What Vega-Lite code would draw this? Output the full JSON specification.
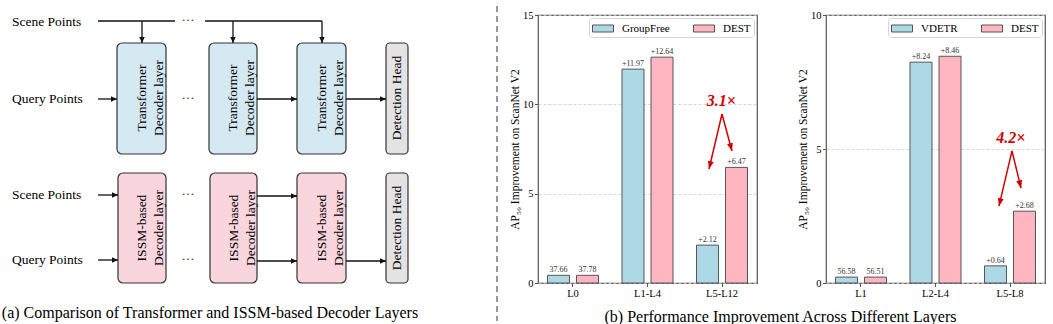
{
  "$schema": "https://vega.github.io/schema/vega-lite/v6.json",
  "padding": {"left": 0, "top": 5, "right": 0, "bottom": 0},
  "background": "white",
  "bounds": "flush",
  "spacing": 69,
  "config": {
    "font": "Liberation Serif",
    "view": {"stroke": "#555555", "strokeWidth": 1.2},
    "axis": {"labelColor": "#000000", "titleColor": "#000000", "tickColor": "#555555", "domain": false, "labelFont": "Liberation Serif", "titleFont": "Liberation Serif"},
    "legend": {
      "orient": "top-right", "direction": "horizontal",
      "symbolType": "M-1,-0.5H2V0.5H-1Z", "symbolSize": 196,
      "symbolStrokeColor": "#555555", "symbolStrokeWidth": 1, "symbolOpacity": 1,
      "labelFontSize": 11, "labelColor": "#000000", "labelFont": "Liberation Serif",
      "strokeColor": "#d5d5d5", "fillColor": "#ffffff", "padding": 3, "cornerRadius": 3,
      "offset": 3, "columnPadding": 21, "labelOffset": 15
    }
  },
  "resolve": {"scale": {"color": "independent"}, "legend": {"color": "independent"}},
  "datasets": {
    "diagSep": [{"x": 497, "y": 5, "x2": 497, "y2": 320}],
    "diagBoxes": [
      {"kind": "blue", "x": 117, "x2": 166, "y": 42, "y2": 153},
      {"kind": "blue", "x": 209, "x2": 257, "y": 42, "y2": 153},
      {"kind": "blue", "x": 297, "x2": 346, "y": 42, "y2": 153},
      {"kind": "grey", "x": 386, "x2": 408, "y": 42, "y2": 153},
      {"kind": "pink", "x": 118, "x2": 166, "y": 172, "y2": 282},
      {"kind": "pink", "x": 210, "x2": 257, "y": 172, "y2": 282},
      {"kind": "pink", "x": 297, "x2": 346, "y": 172, "y2": 282},
      {"kind": "grey", "x": 386, "x2": 408, "y": 172, "y2": 282}
    ],
    "diagBoxText": [
      {"x": 141.5, "y": 97, "label": "Transformer\nDecoder layer"},
      {"x": 233, "y": 97, "label": "Transformer\nDecoder layer"},
      {"x": 321.5, "y": 97, "label": "Transformer\nDecoder layer"},
      {"x": 397, "y": 97, "label": "Detection Head"},
      {"x": 142, "y": 227, "label": "ISSM-based\nDecoder layer"},
      {"x": 233.5, "y": 227, "label": "ISSM-based\nDecoder layer"},
      {"x": 321.5, "y": 227, "label": "ISSM-based\nDecoder layer"},
      {"x": 397, "y": 227, "label": "Detection Head"}
    ],
    "diagLines": [
      {"x": 98, "y": 20, "x2": 175, "y2": 20, "head": "none"},
      {"x": 205, "y": 20, "x2": 322, "y2": 20, "head": "none"},
      {"x": 142, "y": 20, "x2": 142, "y2": 42, "head": "down"},
      {"x": 233, "y": 20, "x2": 233, "y2": 42, "head": "down"},
      {"x": 322, "y": 20, "x2": 322, "y2": 42, "head": "down"},
      {"x": 98, "y": 98, "x2": 117, "y2": 98, "head": "right"},
      {"x": 257, "y": 98, "x2": 297, "y2": 98, "head": "right"},
      {"x": 346, "y": 98, "x2": 386, "y2": 98, "head": "right"},
      {"x": 98, "y": 194, "x2": 118, "y2": 194, "head": "right"},
      {"x": 98, "y": 259, "x2": 118, "y2": 259, "head": "right"},
      {"x": 257, "y": 195, "x2": 297, "y2": 195, "head": "right"},
      {"x": 257, "y": 260, "x2": 297, "y2": 260, "head": "right"},
      {"x": 346, "y": 260, "x2": 386, "y2": 260, "head": "right"}
    ],
    "diagLabels": [
      {"x": 12, "y": 21, "label": "Scene Points"},
      {"x": 12, "y": 98, "label": "Query Points"},
      {"x": 12, "y": 194, "label": "Scene Points"},
      {"x": 12, "y": 259, "label": "Query Points"}
    ],
    "diagDots": [
      {"x": 188, "y": 19}, {"x": 188, "y": 97}, {"x": 188, "y": 193}, {"x": 188, "y": 258}
    ],
    "diagCaption": [{"x": 210, "y": 317, "label": "(a) Comparison of Transformer and ISSM-based Decoder Layers"}],
    "bars1": [
      {"layer": "L0", "model": "GroupFree", "value": 0.43, "label": "37.66"},
      {"layer": "L0", "model": "DEST", "value": 0.43, "label": "37.78"},
      {"layer": "L1-L4", "model": "GroupFree", "value": 11.97, "label": "+11.97"},
      {"layer": "L1-L4", "model": "DEST", "value": 12.64, "label": "+12.64"},
      {"layer": "L5-L12", "model": "GroupFree", "value": 2.12, "label": "+2.12"},
      {"layer": "L5-L12", "model": "DEST", "value": 6.47, "label": "+6.47"}
    ],
    "bars2": [
      {"layer": "L1", "model": "VDETR", "value": 0.22, "label": "56.58"},
      {"layer": "L1", "model": "DEST", "value": 0.22, "label": "56.51"},
      {"layer": "L2-L4", "model": "VDETR", "value": 8.24, "label": "+8.24"},
      {"layer": "L2-L4", "model": "DEST", "value": 8.46, "label": "+8.46"},
      {"layer": "L5-L8", "model": "VDETR", "value": 0.64, "label": "+0.64"},
      {"layer": "L5-L8", "model": "DEST", "value": 2.68, "label": "+2.68"}
    ],
    "ann1": [{"u": 1.99, "v": 10.18, "label": "3.1×"}],
    "arr1": [
      {"side": "left", "u1": 2.0, "v1": 9.46, "u2": 1.826, "v2": 6.38},
      {"side": "right", "u1": 2.0, "v1": 9.46, "u2": 2.134, "v2": 7.39}
    ],
    "ann2": [{"u": 2.01, "v": 5.41, "label": "4.2×"}],
    "arr2": [
      {"side": "left", "u1": 2.027, "v1": 4.93, "u2": 1.852, "v2": 2.87},
      {"side": "right", "u1": 2.027, "v1": 4.93, "u2": 2.148, "v2": 3.54}
    ]
  },
  "hconcat": [
    {
      "width": 469,
      "height": 310,
      "view": {"stroke": null},
      "encoding": {
        "x": {"field": "x", "type": "quantitative", "scale": {"domain": [0, 469], "nice": false, "zero": false}, "axis": null},
        "y": {"field": "y", "type": "quantitative", "scale": {"domain": [14, 324], "nice": false, "zero": false, "reverse": true}, "axis": null}
      },
      "layer": [
        {"data": {"name": "diagSep"}, "mark": {"type": "rule", "stroke": "#555555", "strokeWidth": 1.2, "strokeDash": [6, 4]}, "encoding": {"x2": {"field": "x2"}, "y2": {"field": "y2"}}},
        {"data": {"name": "diagBoxes"}, "transform": [{"filter": "datum.kind === 'blue'"}], "mark": {"type": "rect", "fill": "#d5e9f2", "stroke": "#333333", "strokeWidth": 1.2, "cornerRadius": 5}, "encoding": {"x2": {"field": "x2"}, "y2": {"field": "y2"}}},
        {"data": {"name": "diagBoxes"}, "transform": [{"filter": "datum.kind === 'pink'"}], "mark": {"type": "rect", "fill": "#f9d5dd", "stroke": "#333333", "strokeWidth": 1.2, "cornerRadius": 5}, "encoding": {"x2": {"field": "x2"}, "y2": {"field": "y2"}}},
        {"data": {"name": "diagBoxes"}, "transform": [{"filter": "datum.kind === 'grey'"}], "mark": {"type": "rect", "fill": "#e3e3e3", "stroke": "#333333", "strokeWidth": 1.2, "cornerRadius": 4}, "encoding": {"x2": {"field": "x2"}, "y2": {"field": "y2"}}},
        {"data": {"name": "diagLines"}, "mark": {"type": "rule", "stroke": "#111111", "strokeWidth": 1.3}, "encoding": {"x2": {"field": "x2"}, "y2": {"field": "y2"}}},
        {"data": {"name": "diagLines"}, "transform": [{"filter": "datum.head === 'right'"}], "mark": {"type": "point", "shape": "M0,0L-2.2,-1L-2.2,1Z", "filled": true, "color": "#111111", "opacity": 1, "size": 30},
          "encoding": {
            "x": {"field": "x2", "type": "quantitative", "scale": {"domain": [0, 469], "nice": false, "zero": false}, "axis": null},
            "y": {"field": "y2", "type": "quantitative", "scale": {"domain": [14, 324], "nice": false, "zero": false, "reverse": true}, "axis": null}
          }},
        {"data": {"name": "diagLines"}, "transform": [{"filter": "datum.head === 'down'"}], "mark": {"type": "point", "shape": "M0,0L-1,-2.2L1,-2.2Z", "filled": true, "color": "#111111", "opacity": 1, "size": 30},
          "encoding": {
            "x": {"field": "x2", "type": "quantitative", "scale": {"domain": [0, 469], "nice": false, "zero": false}, "axis": null},
            "y": {"field": "y2", "type": "quantitative", "scale": {"domain": [14, 324], "nice": false, "zero": false, "reverse": true}, "axis": null}
          }},
        {"data": {"name": "diagLabels"}, "mark": {"type": "text", "align": "left", "baseline": "middle", "fontSize": 13.5, "color": "#000000"}, "encoding": {"text": {"field": "label"}}},
        {"data": {"name": "diagDots"}, "mark": {"type": "text", "align": "center", "baseline": "middle", "fontSize": 13, "color": "#333333", "text": "···"}},
        {"data": {"name": "diagBoxText"}, "mark": {"type": "text", "align": "center", "baseline": "middle", "angle": 270, "fontSize": 13.5, "lineBreak": "\n", "lineHeight": 17, "color": "#000000"}, "encoding": {"text": {"field": "label"}}},
        {"data": {"name": "diagCaption"}, "mark": {"type": "text", "align": "center", "baseline": "alphabetic", "fontSize": 16, "color": "#000000"}, "encoding": {"text": {"field": "label"}}}
      ]
    },
    {
      "width": 219,
      "height": 268,
      "resolve": {"scale": {"x": "independent"}, "axis": {"x": "independent"}},
      "layer": [
        {
          "data": {"name": "bars1"},
          "encoding": {
            "x": {"field": "layer", "type": "nominal", "sort": ["L0", "L1-L4", "L5-L12"], "scale": {"paddingInner": 0.315, "paddingOuter": 0.127},
              "axis": {"title": "(b) Performance Improvement Across Different Layers", "titleFontSize": 16, "titleFontWeight": "normal", "titleX": 242, "titleY": 38, "titleAlign": "center", "titleBaseline": "alphabetic", "labelAngle": 0, "labelFontSize": 10.5, "labelFont": "Liberation Serif", "tickSize": 3.5, "labelPadding": 2}},
            "y": {"field": "value", "type": "quantitative", "scale": {"domain": [0, 15], "nice": false},
              "axis": {"values": [0, 5, 10, 15], "title": "AP₅₀ Improvement on ScanNet V2", "titleFontSize": 11.5, "titleFontWeight": "normal", "titlePadding": 2, "grid": true, "gridDash": [3, 2], "gridColor": "#cccccc", "gridWidth": 0.8, "tickSize": 3.5, "labelFontSize": 10.5, "labelFont": "Liberation Serif", "labelPadding": 1.5}}
          },
          "layer": [
            {"transform": [{"filter": "datum.model === 'GroupFree'"}], "mark": {"type": "bar", "stroke": "#555555", "strokeWidth": 1, "width": 22, "xOffset": -14.5},
              "encoding": {"color": {"field": "model", "type": "nominal", "scale": {"domain": ["GroupFree", "DEST"], "range": ["#add8e6", "#ffb6c1"]}, "legend": {"title": null, "labelFont": "Liberation Serif"}}}},
            {"transform": [{"filter": "datum.model === 'DEST'"}], "mark": {"type": "bar", "stroke": "#555555", "strokeWidth": 1, "width": 22, "xOffset": 14.5},
              "encoding": {"color": {"field": "model", "type": "nominal", "scale": {"domain": ["GroupFree", "DEST"], "range": ["#add8e6", "#ffb6c1"]}, "legend": {"title": null, "labelFont": "Liberation Serif"}}}},
            {"transform": [{"filter": "datum.model === 'GroupFree'"}], "mark": {"type": "text", "baseline": "bottom", "dy": -1, "xOffset": -14.5, "fontSize": 8, "color": "#333333"}, "encoding": {"text": {"field": "label"}}},
            {"transform": [{"filter": "datum.model === 'DEST'"}], "mark": {"type": "text", "baseline": "bottom", "dy": -1, "xOffset": 14.5, "fontSize": 8, "color": "#333333"}, "encoding": {"text": {"field": "label"}}}
          ]
        },
        {
          "data": {"name": "ann1"},
          "mark": {"type": "text", "align": "center", "baseline": "middle", "fontSize": 16, "fontWeight": "bold", "fontStyle": "italic", "color": "#d00000"},
          "encoding": {
            "x": {"field": "u", "type": "quantitative", "scale": {"domain": [-0.47, 2.47], "nice": false, "zero": false}, "axis": null},
            "y": {"field": "v", "type": "quantitative", "scale": {"domain": [0, 15], "nice": false}},
            "text": {"field": "label"}
          }
        },
        {
          "data": {"name": "arr1"},
          "encoding": {
            "x": {"field": "u2", "type": "quantitative", "scale": {"domain": [-0.47, 2.47], "nice": false, "zero": false}, "axis": null},
            "y": {"field": "v2", "type": "quantitative", "scale": {"domain": [0, 15], "nice": false}}
          },
          "layer": [
            {"mark": {"type": "rule", "stroke": "#d00000", "strokeWidth": 1.5}, "encoding": {"x2": {"field": "u1"}, "y2": {"field": "v1"}}},
            {"transform": [{"filter": "datum.side === 'left'"}], "mark": {"type": "point", "shape": "M0,0L-1,-2.6L1,-2.6Z", "filled": true, "color": "#d00000", "opacity": 1, "size": 36, "angle": 13.3}},
            {"transform": [{"filter": "datum.side === 'right'"}], "mark": {"type": "point", "shape": "M0,0L-1,-2.6L1,-2.6Z", "filled": true, "color": "#d00000", "opacity": 1, "size": 36, "angle": -15}}
          ]
        }
      ]
    },
    {
      "width": 219,
      "height": 268,
      "resolve": {"scale": {"x": "independent"}, "axis": {"x": "independent"}},
      "layer": [
        {
          "data": {"name": "bars2"},
          "encoding": {
            "x": {"field": "layer", "type": "nominal", "sort": ["L1", "L2-L4", "L5-L8"], "scale": {"paddingInner": 0.315, "paddingOuter": 0.127},
              "axis": {"title": null, "labelAngle": 0, "labelFontSize": 10.5, "labelFont": "Liberation Serif", "tickSize": 3.5, "labelPadding": 2}},
            "y": {"field": "value", "type": "quantitative", "scale": {"domain": [0, 10], "nice": false},
              "axis": {"values": [0, 5, 10], "title": "AP₅₀ Improvement on ScanNet V2", "titleFontSize": 11.5, "titleFontWeight": "normal", "titlePadding": 2, "grid": true, "gridDash": [3, 2], "gridColor": "#cccccc", "gridWidth": 0.8, "tickSize": 3.5, "labelFontSize": 10.5, "labelFont": "Liberation Serif", "labelPadding": 1.5}}
          },
          "layer": [
            {"transform": [{"filter": "datum.model === 'VDETR'"}], "mark": {"type": "bar", "stroke": "#555555", "strokeWidth": 1, "width": 22, "xOffset": -14.5},
              "encoding": {"color": {"field": "model", "type": "nominal", "scale": {"domain": ["VDETR", "DEST"], "range": ["#add8e6", "#ffb6c1"]}, "legend": {"title": null, "labelFont": "Liberation Serif"}}}},
            {"transform": [{"filter": "datum.model === 'DEST'"}], "mark": {"type": "bar", "stroke": "#555555", "strokeWidth": 1, "width": 22, "xOffset": 14.5},
              "encoding": {"color": {"field": "model", "type": "nominal", "scale": {"domain": ["VDETR", "DEST"], "range": ["#add8e6", "#ffb6c1"]}, "legend": {"title": null, "labelFont": "Liberation Serif"}}}},
            {"transform": [{"filter": "datum.model === 'VDETR'"}], "mark": {"type": "text", "baseline": "bottom", "dy": -1, "xOffset": -14.5, "fontSize": 8, "color": "#333333"}, "encoding": {"text": {"field": "label"}}},
            {"transform": [{"filter": "datum.model === 'DEST'"}], "mark": {"type": "text", "baseline": "bottom", "dy": -1, "xOffset": 14.5, "fontSize": 8, "color": "#333333"}, "encoding": {"text": {"field": "label"}}}
          ]
        },
        {
          "data": {"name": "ann2"},
          "mark": {"type": "text", "align": "center", "baseline": "middle", "fontSize": 16, "fontWeight": "bold", "fontStyle": "italic", "color": "#d00000"},
          "encoding": {
            "x": {"field": "u", "type": "quantitative", "scale": {"domain": [-0.47, 2.47], "nice": false, "zero": false}, "axis": null},
            "y": {"field": "v", "type": "quantitative", "scale": {"domain": [0, 10], "nice": false}},
            "text": {"field": "label"}
          }
        },
        {
          "data": {"name": "arr2"},
          "encoding": {
            "x": {"field": "u2", "type": "quantitative", "scale": {"domain": [-0.47, 2.47], "nice": false, "zero": false}, "axis": null},
            "y": {"field": "v2", "type": "quantitative", "scale": {"domain": [0, 10], "nice": false}}
          },
          "layer": [
            {"mark": {"type": "rule", "stroke": "#d00000", "strokeWidth": 1.5}, "encoding": {"x2": {"field": "u1"}, "y2": {"field": "v1"}}},
            {"transform": [{"filter": "datum.side === 'left'"}], "mark": {"type": "point", "shape": "M0,0L-1,-2.6L1,-2.6Z", "filled": true, "color": "#d00000", "opacity": 1, "size": 36, "angle": 13.3}},
            {"transform": [{"filter": "datum.side === 'right'"}], "mark": {"type": "point", "shape": "M0,0L-1,-2.6L1,-2.6Z", "filled": true, "color": "#d00000", "opacity": 1, "size": 36, "angle": -13.7}}
          ]
        }
      ]
    }
  ]
}
